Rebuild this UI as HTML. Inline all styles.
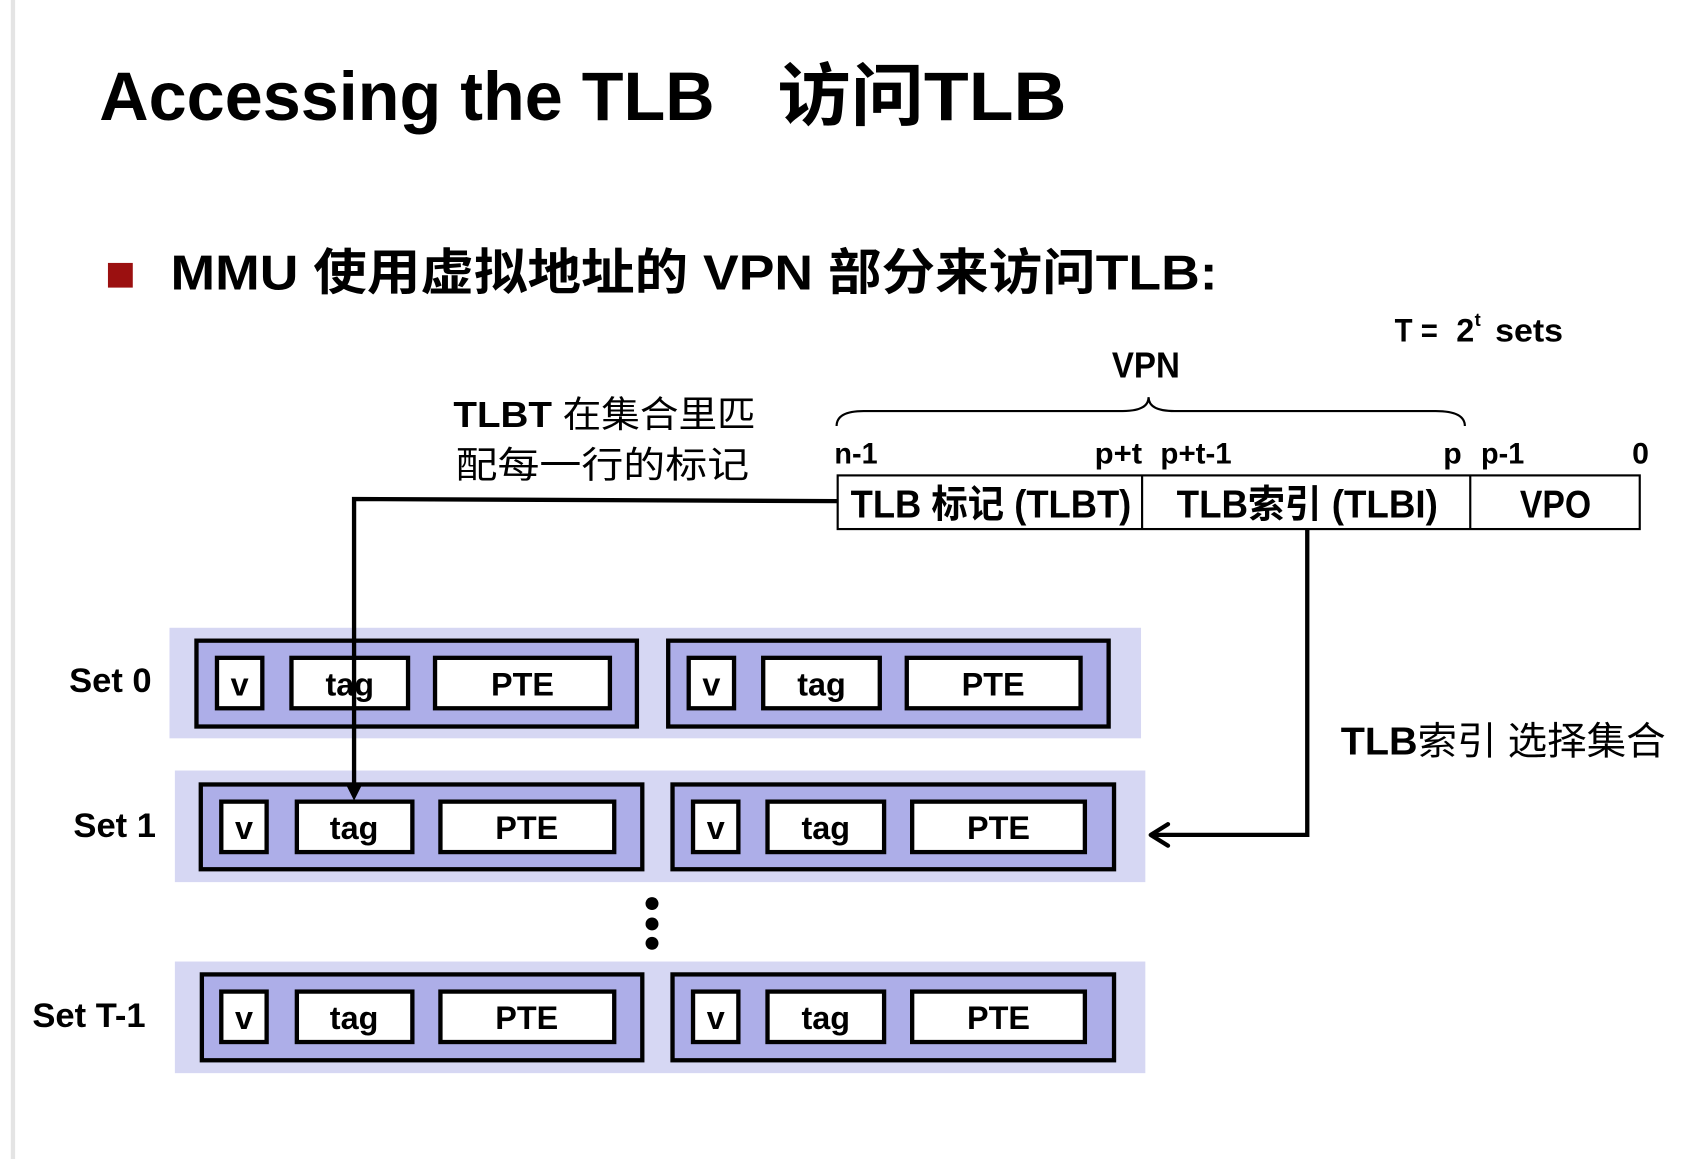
<!DOCTYPE html>
<html><head><meta charset="utf-8"><style>
html,body{margin:0;padding:0;background:#fff;}
svg{display:block;}
text{font-family:"Liberation Sans","Noto Sans CJK SC",sans-serif;font-weight:bold;fill:#000;}
.n{font-weight:normal;}
</style></head><body>
<svg width="1684" height="1159" viewBox="0 0 1560 1080" preserveAspectRatio="none" xmlns="http://www.w3.org/2000/svg">
<rect x="0" y="0" width="1560" height="1080" fill="#fff"/>
<rect x="10" y="0" width="4" height="1080" fill="#e4e4e4"/>
<text x="92" y="112" font-size="64" textLength="570" lengthAdjust="spacingAndGlyphs">Accessing the TLB</text>
<text x="720" y="112" font-size="64" textLength="268" lengthAdjust="spacingAndGlyphs">访问TLB</text>
<rect x="100" y="245" width="23" height="23" fill="#9b1010"/>
<text x="158" y="270" font-size="46" textLength="970" lengthAdjust="spacingAndGlyphs">MMU 使用虚拟地址的 VPN 部分来访问TLB:</text>
<text x="1292" y="318" font-size="30" textLength="40" lengthAdjust="spacingAndGlyphs">T =</text>
<text x="1349" y="318" font-size="30">2</text>
<text x="1366" y="304" font-size="17">t</text>
<text x="1385" y="318" font-size="30" textLength="63" lengthAdjust="spacingAndGlyphs">sets</text>
<text x="1030" y="352" font-size="34" textLength="63" lengthAdjust="spacingAndGlyphs">VPN</text>
<path d="M775,397 Q775,383 800,383 L1040,383 Q1064,383 1064,370 Q1064,383 1088,383 L1330,383 Q1357,383 1357,397" fill="none" stroke="#000" stroke-width="2"/>
<g font-size="28">
<text x="773" y="432" textLength="40" lengthAdjust="spacingAndGlyphs">n-1</text>
<text x="1014" y="432" textLength="44" lengthAdjust="spacingAndGlyphs">p+t</text>
<text x="1075" y="432" textLength="66" lengthAdjust="spacingAndGlyphs">p+t-1</text>
<text x="1337" y="432">p</text>
<text x="1372" y="432" textLength="40" lengthAdjust="spacingAndGlyphs">p-1</text>
<text x="1512" y="432">0</text>
</g>
<rect x="776" y="443" width="743" height="50" fill="#fff" stroke="#000" stroke-width="2"/>
<line x1="1058" y1="443" x2="1058" y2="493" stroke="#000" stroke-width="2"/>
<line x1="1362" y1="443" x2="1362" y2="493" stroke="#000" stroke-width="2"/>
<text x="788" y="482" font-size="36" textLength="260" lengthAdjust="spacingAndGlyphs">TLB 标记 (TLBT)</text>
<text x="1090" y="482" font-size="36" textLength="242" lengthAdjust="spacingAndGlyphs">TLB索引 (TLBI)</text>
<text x="1408" y="482" font-size="36" textLength="66" lengthAdjust="spacingAndGlyphs">VPO</text>
<text x="420" y="398" font-size="34" textLength="280" lengthAdjust="spacingAndGlyphs">TLBT <tspan class="n">在集合里匹</tspan></text>
<text class="n" x="422" y="445" font-size="34" textLength="272" lengthAdjust="spacingAndGlyphs">配每一行的标记</text>
<text x="1242" y="703" font-size="36" textLength="301" lengthAdjust="spacingAndGlyphs">TLB<tspan class="n">索引 选择集合</tspan></text>

<g id="rows">
<!-- Set 0 -->
<rect x="157" y="585" width="900" height="103" fill="#d6d7f3"/>
<rect x="182" y="597" width="408" height="80" fill="#adaee8" stroke="#000" stroke-width="4"/>
<rect x="619" y="597" width="408" height="80" fill="#adaee8" stroke="#000" stroke-width="4"/>
<g fill="#fff" stroke="#000" stroke-width="4">
<rect x="201" y="613" width="42" height="47"/><rect x="270" y="613" width="108" height="47"/><rect x="403" y="613" width="162" height="47"/>
<rect x="638" y="613" width="42" height="47"/><rect x="707" y="613" width="108" height="47"/><rect x="840" y="613" width="161" height="47"/>
</g>
<!-- Set 1 -->
<rect x="162" y="718" width="899" height="104" fill="#d6d7f3"/>
<rect x="186" y="731" width="409" height="79" fill="#adaee8" stroke="#000" stroke-width="4"/>
<rect x="623" y="731" width="409" height="79" fill="#adaee8" stroke="#000" stroke-width="4"/>
<g fill="#fff" stroke="#000" stroke-width="4">
<rect x="205" y="747" width="42" height="47"/><rect x="275" y="747" width="107" height="47"/><rect x="408" y="747" width="161" height="47"/>
<rect x="642" y="747" width="42" height="47"/><rect x="711" y="747" width="108" height="47"/><rect x="845" y="747" width="160" height="47"/>
</g>
<!-- Set T-1 -->
<rect x="162" y="896" width="899" height="104" fill="#d6d7f3"/>
<rect x="187" y="908" width="408" height="80" fill="#adaee8" stroke="#000" stroke-width="4"/>
<rect x="623" y="908" width="409" height="80" fill="#adaee8" stroke="#000" stroke-width="4"/>
<g fill="#fff" stroke="#000" stroke-width="4">
<rect x="205" y="924" width="42" height="47"/><rect x="275" y="924" width="107" height="47"/><rect x="408" y="924" width="161" height="47"/>
<rect x="642" y="924" width="42" height="47"/><rect x="711" y="924" width="108" height="47"/><rect x="845" y="924" width="160" height="47"/>
</g>
</g>
<g font-size="30" text-anchor="middle">
<text x="222" y="648">v</text><text x="324" y="648">tag</text><text x="484" y="648">PTE</text>
<text x="659" y="648">v</text><text x="761" y="648">tag</text><text x="920" y="648">PTE</text>
<text x="226" y="782">v</text><text x="328" y="782">tag</text><text x="488" y="782">PTE</text>
<text x="663" y="782">v</text><text x="765" y="782">tag</text><text x="925" y="782">PTE</text>
<text x="226" y="959">v</text><text x="328" y="959">tag</text><text x="488" y="959">PTE</text>
<text x="663" y="959">v</text><text x="765" y="959">tag</text><text x="925" y="959">PTE</text>
</g>
<g font-size="32">
<text x="64" y="645">Set 0</text>
<text x="68" y="780">Set 1</text>
<text x="30" y="957">Set T-1</text>
</g>
<circle cx="604" cy="842" r="6"/><circle cx="604" cy="861" r="6"/><circle cx="604" cy="879" r="6"/>

<path d="M776,467 L328,465 L328,735" fill="none" stroke="#000" stroke-width="4"/>
<path d="M320,730 L336,730 L328,746 Z" fill="#000"/>
<path d="M1211,493 L1211,778 L1068,778" fill="none" stroke="#000" stroke-width="4"/>
<path d="M1082,768 L1066,778 L1082,788" fill="none" stroke="#000" stroke-width="4" stroke-linecap="round" stroke-linejoin="round"/>
</svg>
</body></html>
